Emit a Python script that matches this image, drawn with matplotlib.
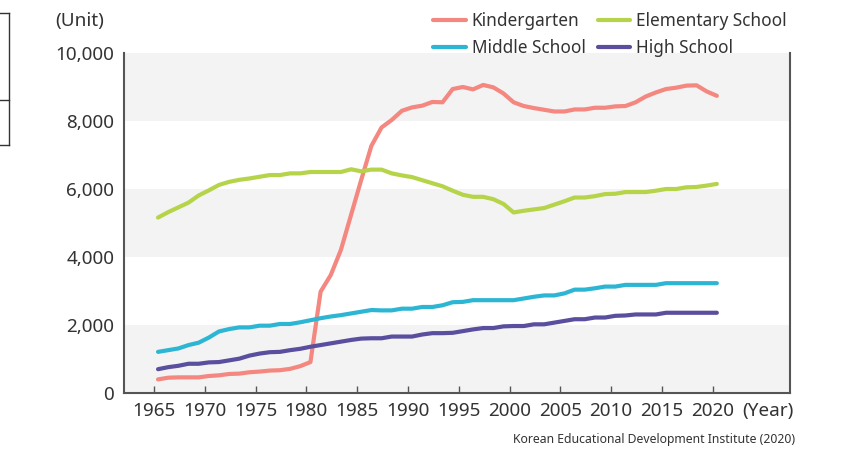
import numpy as np
import matplotlib
matplotlib.use("Agg")
import matplotlib.pyplot as plt
from matplotlib.lines import Line2D

years = list(range(1965, 2021))

kindergarten = [400, 450, 460, 460, 460, 500, 520, 560, 570, 610,
                630, 660, 670, 710, 790, 910, 2980, 3470, 4210, 5240,
                6270, 7270, 7810, 8030, 8300, 8400, 8450, 8560, 8550, 8940,
                9000, 8930, 9060, 8990, 8810, 8550, 8440, 8380, 8330, 8280,
                8280, 8340, 8340, 8390, 8390, 8430, 8440, 8550, 8720, 8840,
                8940, 8980, 9040, 9050, 8870, 8740]
elementary = [5160, 5320, 5460, 5600, 5810, 5960, 6120, 6210, 6270, 6310,
              6360, 6410, 6410, 6460, 6460, 6500, 6500, 6500, 6500, 6580,
              6520, 6570, 6570, 6460, 6400, 6350, 6260, 6170, 6080, 5950,
              5830, 5770, 5770, 5700, 5560, 5310, 5360, 5400, 5440, 5540,
              5640, 5750, 5750, 5790, 5850, 5860, 5910, 5910, 5910, 5950,
              6000, 6000, 6050, 6060, 6100, 6150]
middle = [1210, 1260, 1310, 1410, 1480, 1630, 1810, 1880, 1930, 1930,
          1980, 1980, 2030, 2030, 2080, 2140, 2200, 2250, 2290, 2340,
          2390, 2440, 2430, 2430, 2480, 2480, 2530, 2530, 2580, 2670,
          2680, 2730, 2730, 2730, 2730, 2730, 2780, 2830, 2870, 2870,
          2930, 3040, 3040, 3080, 3130, 3130, 3180, 3180, 3180, 3180,
          3230, 3230, 3230, 3230, 3230, 3230]
high = [700, 760, 800, 860, 860, 900, 910, 960, 1010, 1100,
        1160, 1200, 1210, 1260, 1300, 1360, 1410, 1460, 1510, 1560,
        1600, 1610, 1610, 1660, 1660, 1660, 1720, 1760, 1760, 1770,
        1820, 1870, 1910, 1910, 1960, 1970, 1970, 2020, 2020, 2070,
        2120, 2170, 2170, 2220, 2220, 2270, 2280, 2310, 2310, 2310,
        2360, 2360, 2360, 2360, 2360, 2360]

series = [("Kindergarten", kindergarten, "#F4877F"),
          ("Middle School", middle, "#2DB6D4"),
          ("Elementary School", elementary, "#B6D44A"),
          ("High School", high, "#5A4F9E")]

x_ticks = list(range(1965, 2021, 5))
y_ticks = [0, 2000, 4000, 6000, 8000, 10000]
bands = [(0, 2000), (4000, 6000), (8000, 10000)]

plt.rcParams["font.family"] = ["Noto Sans", "DejaVu Sans"]
TXT = "#333333"
SPINE = "#555555"

fig = plt.figure(figsize=(8.43, 4.58), dpi=100)
ax = fig.add_axes([124 / 843, 65 / 458, 666 / 843, 340 / 458])

for lo, hi in bands:
    ax.axhspan(lo, hi, color="#F3F3F3", lw=0, zorder=0)

for name, vals, col in series:
    ax.plot(years, vals, color=col, lw=3, label=name,
            solid_capstyle="round", solid_joinstyle="round", zorder=3)

ax.set_xlim(1961.65, 2027.2)
ax.set_ylim(0, 10000)
ax.set_xticks([t - 0.4 for t in x_ticks])
ax.set_xticklabels([str(t) for t in x_ticks])
ax.set_yticks(y_ticks)
ax.set_yticklabels([f"{v:,}" for v in y_ticks])
ax.tick_params(axis="x", direction="in", length=5, width=1, color=SPINE,
               pad=6.5, labelsize=13.6, labelcolor=TXT)
ax.tick_params(axis="y", length=0, pad=7, labelsize=13.6, labelcolor=TXT)

ax.spines["top"].set_visible(False)
for s in ["left", "right", "bottom"]:
    ax.spines[s].set_color(SPINE)
    ax.spines[s].set_linewidth(1.5)

fig.text(55 / 843, 1 - 21 / 458, "(Unit)", fontsize=13.6, color=TXT,
         ha="left", va="center")
fig.text(794 / 843, 1 - 411 / 458, "(Year)", fontsize=13.6, color=TXT,
         ha="right", va="center")
fig.text(795 / 843, 1 - 440 / 458,
         "Korean Educational Development Institute (2020)",
         fontsize=8.8, color=TXT, ha="right", va="center")

handles, labels = ax.get_legend_handles_labels()
fig.legend(handles, labels, ncol=2, loc="upper left",
           bbox_to_anchor=(433 / 843, 1 - 12 / 458), frameon=False,
           fontsize=12.4, handlelength=1.9, handletextpad=0.35,
           columnspacing=0.7, labelspacing=0.5, borderpad=0,
           borderaxespad=0, labelcolor=TXT)

# partial box cut off at the left edge of the source image
for y in (13, 100, 145):
    fig.add_artist(Line2D([0, 9 / 843], [1 - y / 458] * 2, color="#333333",
                          lw=1, transform=fig.transFigure))
fig.add_artist(Line2D([9 / 843] * 2, [1 - 13 / 458, 1 - 145 / 458],
                      color="#333333", lw=1, transform=fig.transFigure))

fig.savefig("out.png", dpi=100)
